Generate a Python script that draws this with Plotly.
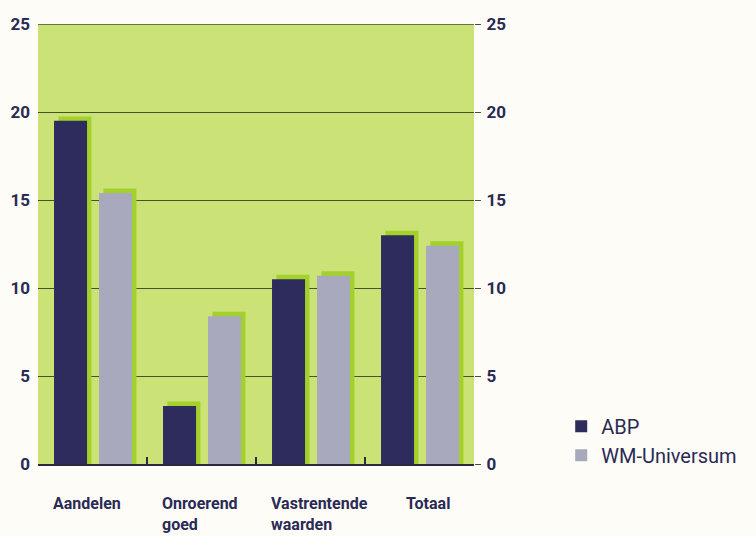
import plotly.graph_objects as go

categories = ["Aandelen", "Onroerend goed", "Vastrentende waarden", "Totaal"]
label_lines = ["Aandelen", "Onroerend<br>goed", "Vastrentende<br>waarden", "Totaal"]
abp = [19.5, 3.3, 10.5, 13.0]
wm_universum = [15.4, 8.4, 10.7, 12.4]
y_ticks = [0, 5, 10, 15, 20, 25]

NAVY = "#2d2c5c"
GREY = "#a9a9bd"
PLOT_BG = "#cbe276"
SHADOW = "#a4d02c"
TEXT = "#2a2a55"
GRID = "#44512c"
FONT = "Roboto, sans-serif"

bar_w = 0.303
abp_off = -0.353
wm_off = 0.06
sh_dx = 0.04
sh_dy = 0.25

fig = go.Figure()

# green drop-shadow blocks behind each bar
for vals, off in ((abp, abp_off), (wm_universum, wm_off)):
    fig.add_trace(go.Bar(
        x=categories, y=[v + sh_dy for v in vals], width=bar_w, offset=off + sh_dx,
        marker=dict(color=SHADOW, line=dict(width=0)), showlegend=False, hoverinfo="skip",
    ))

fig.add_trace(go.Bar(
    x=categories, y=abp, width=bar_w, offset=abp_off, name="ABP",
    marker=dict(color=NAVY, line=dict(width=0)),
))
fig.add_trace(go.Bar(
    x=categories, y=wm_universum, width=bar_w, offset=wm_off, name="WM-Universum",
    marker=dict(color=GREY, line=dict(width=0)),
))
# invisible trace to carry the right-hand axis
fig.add_trace(go.Scatter(x=categories, y=[None] * 4, yaxis="y2", showlegend=False,
                         hoverinfo="skip"))

# top gridline at the axis maximum
fig.add_shape(type="line", xref="paper", yref="y", x0=0, x1=1, y0=y_ticks[-1],
              y1=y_ticks[-1], line=dict(color=GRID, width=1.5))

labfont = dict(family=FONT, size=16, color=TEXT, weight="bold")
for i, lab in enumerate(label_lines):
    if lab == "Totaal":
        fig.add_annotation(x=i, y=0, xref="x", yref="paper", text=lab, showarrow=False,
                           xanchor="center", yanchor="top", yshift=-28, xshift=8,
                           font=labfont, align="center")
    else:
        fig.add_annotation(x=i + abp_off, y=0, xref="x", yref="paper", text=lab,
                           showarrow=False, xanchor="left", yanchor="top", yshift=-28,
                           xshift=-3, font=labfont, align="left")

tickfont = dict(family=FONT, size=17, color=TEXT, weight="bold")
fig.update_layout(
    width=756, height=536,
    margin=dict(l=38, r=282, t=24, b=72, autoexpand=False),
    paper_bgcolor="#fdfcf6",
    plot_bgcolor=PLOT_BG,
    barmode="overlay",
    font=dict(family=FONT, color=TEXT),
    xaxis=dict(
        type="category", showticklabels=False, tickson="boundaries",
        ticks="inside", ticklen=7, tickcolor="#2a2a40", tickwidth=1.5,
        showline=True, linecolor="#2a2a40", linewidth=2, showgrid=False,
        range=[-0.5, 3.5],
    ),
    yaxis=dict(
        range=[0, 25], tickvals=y_ticks, showgrid=True, gridcolor=GRID,
        gridwidth=1, zeroline=False, ticks="", tickfont=tickfont,
        ticklabelstandoff=7,
    ),
    yaxis2=dict(
        range=[0, 25], tickvals=y_ticks, overlaying="y", side="right",
        showgrid=False, zeroline=False, ticks="outside", ticklen=6,
        tickcolor=GRID, tickfont=tickfont, ticklabelstandoff=2,
    ),
    legend=dict(
        x=1.20, y=0.13, xanchor="left", yanchor="top",
        font=dict(family=FONT, size=20, color=TEXT),
        bgcolor="rgba(0,0,0,0)", itemsizing="constant", tracegroupgap=2,
    ),
)

fig.write_html("out.html")
